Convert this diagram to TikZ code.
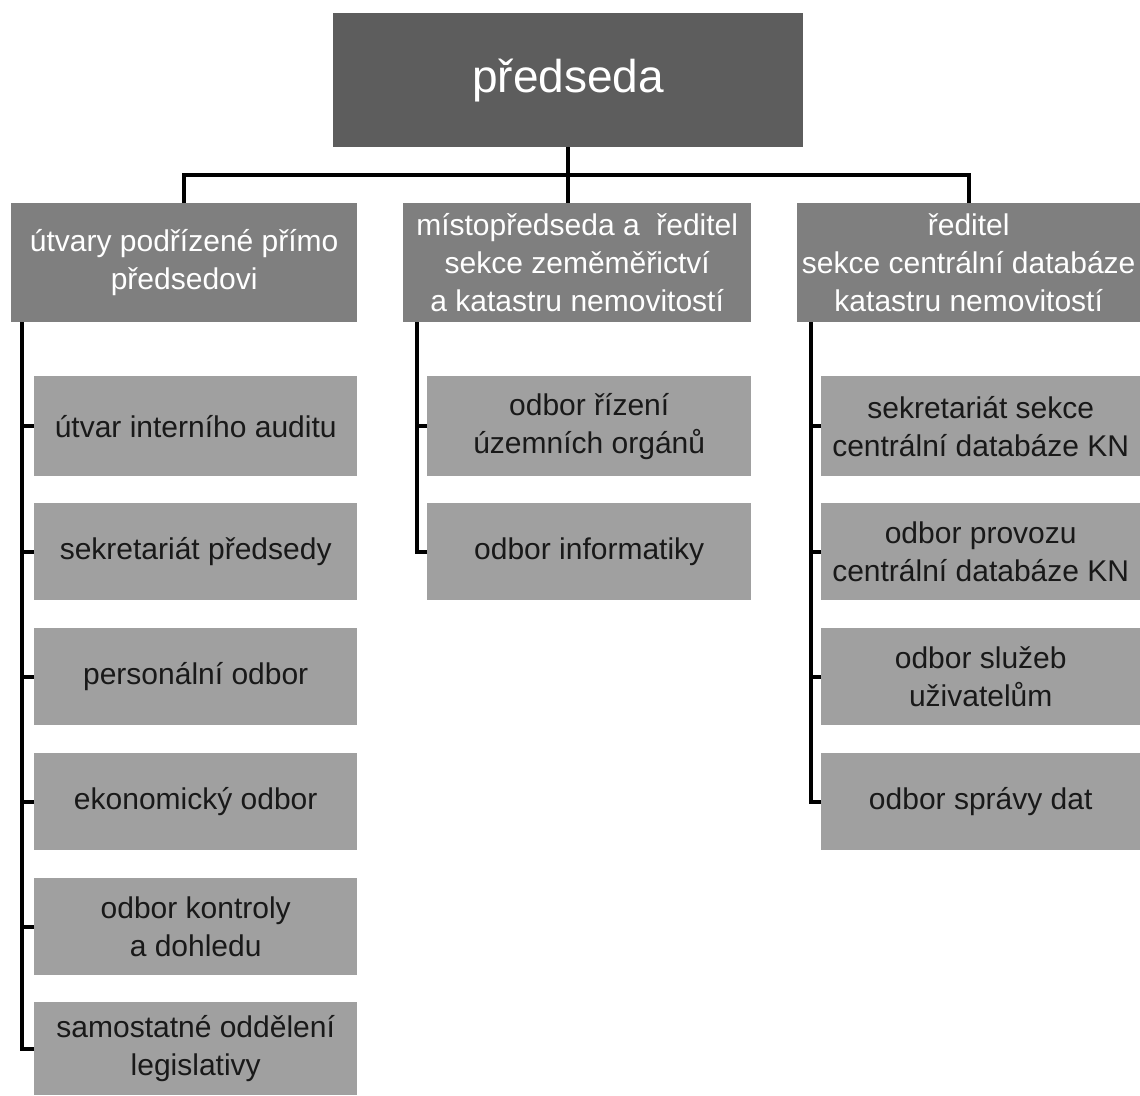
\documentclass[tikz,border=0pt]{standalone}
\usepackage{fontspec}
\setmainfont{Liberation Sans}
\definecolor{boss}{HTML}{5D5D5D}
\definecolor{sect}{HTML}{7F7F7F}
\definecolor{dept}{HTML}{A0A0A0}
\begin{document}
\begin{tikzpicture}[x=1pt, y=-1pt,
    box/.style={anchor=north west, inner sep=2pt, align=center, font=\fontsize{30}{38}\selectfont},
    chief/.style={box, fill=boss, text=white, minimum width=470pt, minimum height=134pt, font=\fontsize{46}{50}\selectfont},
    sect/.style={box, fill=sect, text=white, minimum height=119pt},
    dept/.style={box, fill=dept, text=black!90, minimum width=323pt},
    link/.style={line width=4pt}]
    \useasboundingbox (0,0) rectangle (1140,1095);
    \node[chief] (top) at (333,13) {předseda};
    % sekce
    \node[sect, minimum width=346pt] (sa) at (11,203) {útvary podřízené přímo\\předsedovi};
    \node[sect, minimum width=348pt] (sb) at (403,203) {místopředseda a \ ředitel\\sekce zeměměřictví\\a katastru nemovitostí};
    \node[sect, minimum width=343pt] (sc) at (797,203) {ředitel\\sekce centrální databáze\\katastru nemovitostí};
    % odbory
    \node[dept, minimum height=100pt] (a1) at (34,376) {útvar interního auditu};
    \node[dept, minimum height=97pt] (a2) at (34,503) {sekretariát předsedy};
    \node[dept, minimum height=97pt] (a3) at (34,628) {personální odbor};
    \node[dept, minimum height=97pt] (a4) at (34,753) {ekonomický odbor};
    \node[dept, minimum height=97pt] (a5) at (34,878) {odbor kontroly\\a dohledu};
    \node[dept, minimum height=93pt] (a6) at (34,1002) {samostatné oddělení\\legislativy};
    \node[dept, minimum width=324pt, minimum height=100pt] (b1) at (427,376) {odbor řízení\\územních orgánů};
    \node[dept, minimum width=324pt, minimum height=97pt] (b2) at (427,503) {odbor informatiky};
    \node[dept, minimum width=319pt, minimum height=100pt] (c1) at (821,376) {sekretariát sekce\\centrální databáze KN};
    \node[dept, minimum width=319pt, minimum height=97pt] (c2) at (821,503) {odbor provozu\\centrální databáze KN};
    \node[dept, minimum width=319pt, minimum height=97pt] (c3) at (821,628) {odbor služeb\\uživatelům};
    \node[dept, minimum width=319pt, minimum height=97pt] (c4) at (821,753) {odbor správy dat};
    % spojnice
    \draw[link] (top.south) -- (top.south |- sb.north);
    \draw[link] (sa.north) -- ++(0,-28) -| (sc.north);
    \draw[link] (a6.west) -| ([xshift=-12pt]a1.west |- sa.south);
    \foreach \n in {a1,a2,a3,a4,a5}
        \draw[link] (\n.west) -- ++(-12,0);
    \draw[link] (b2.west) -| ([xshift=-10pt]b1.west |- sb.south);
    \draw[link] (b1.west) -- ++(-10,0);
    \draw[link] (c4.west) -| ([xshift=-10pt]c1.west |- sc.south);
    \foreach \n in {c1,c2,c3}
        \draw[link] (\n.west) -- ++(-10,0);
\end{tikzpicture}
\end{document}
